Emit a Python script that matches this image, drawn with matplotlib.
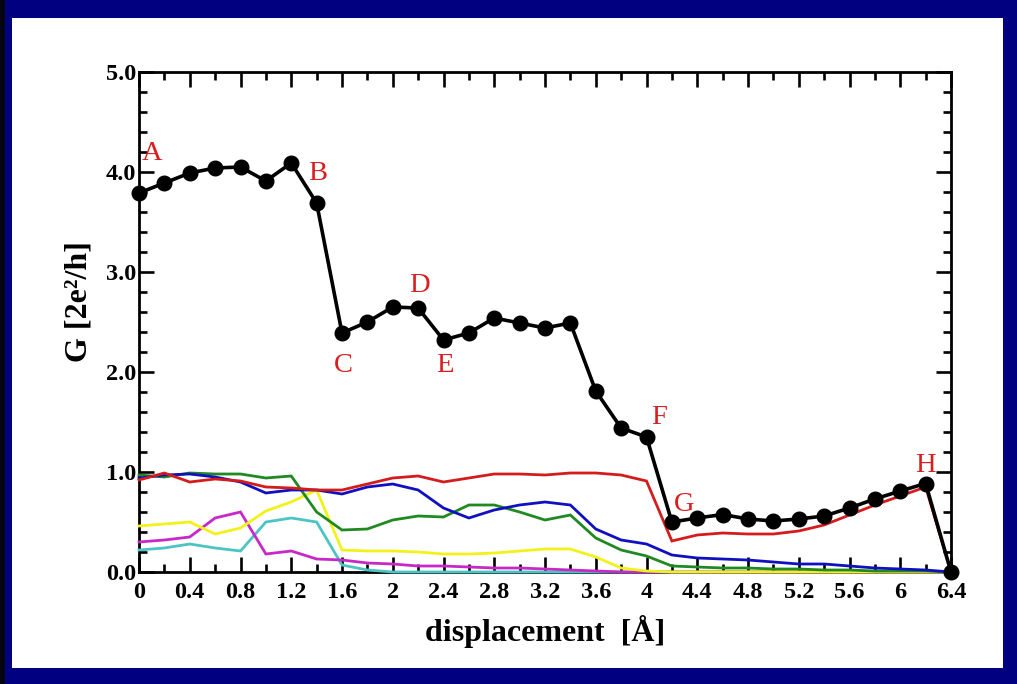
import numpy as np
import matplotlib
matplotlib.use("Agg")
import matplotlib.pyplot as plt
from matplotlib.patches import Rectangle
from matplotlib.ticker import MultipleLocator, FixedLocator

# displacement grid (Å)
displacement = [round(0.2 * i, 1) for i in range(33)]

# total conductance G [2e^2/h]
g_total = [3.79, 3.89, 3.99, 4.04, 4.05, 3.91, 4.09, 3.69, 2.39, 2.50, 2.65,
           2.64, 2.32, 2.39, 2.54, 2.49, 2.44, 2.49, 1.81, 1.44, 1.35, 0.50,
           0.54, 0.575, 0.53, 0.51, 0.53, 0.56, 0.64, 0.73, 0.81, 0.885, 0.0]

# eigenchannel transmissions
ch_red = [0.92, 0.99, 0.90, 0.93, 0.91, 0.85, 0.84, 0.82, 0.82, 0.88, 0.94,
          0.96, 0.90, 0.94, 0.98, 0.98, 0.97, 0.99, 0.99, 0.97, 0.91, 0.31,
          0.37, 0.39, 0.38, 0.38, 0.41, 0.47, 0.57, 0.67, 0.76, 0.85, 0.0]
ch_blue = [0.94, 0.97, 0.98, 0.95, 0.90, 0.79, 0.82, 0.82, 0.78, 0.85, 0.88,
           0.82, 0.64, 0.54, 0.62, 0.67, 0.70, 0.67, 0.43, 0.32, 0.28, 0.17,
           0.14, 0.13, 0.12, 0.10, 0.08, 0.08, 0.06, 0.04, 0.03, 0.02, 0.0]
ch_green = [0.97, 0.95, 0.99, 0.98, 0.98, 0.94, 0.96, 0.60, 0.42, 0.43, 0.52,
            0.56, 0.55, 0.67, 0.67, 0.60, 0.52, 0.57, 0.34, 0.22, 0.16, 0.06,
            0.05, 0.04, 0.04, 0.03, 0.03, 0.02, 0.02, 0.01, 0.01, 0.01, 0.0]
ch_yellow = [0.46, 0.48, 0.50, 0.38, 0.44, 0.61, 0.70, 0.82, 0.22, 0.21, 0.21,
             0.20, 0.18, 0.18, 0.19, 0.21, 0.23, 0.23, 0.15, 0.04, 0.01] + [0.0] * 12
ch_magenta = [0.30, 0.32, 0.35, 0.54, 0.60, 0.18, 0.21, 0.13, 0.12, 0.09, 0.08,
              0.06, 0.06, 0.05, 0.04, 0.04, 0.03, 0.02, 0.01, 0.0] + [0.0] * 13
ch_cyan = [0.22, 0.24, 0.28, 0.24, 0.21, 0.50, 0.54, 0.50, 0.07, 0.02] + [0.0] * 23

# configuration labels
point_labels = ["A", "B", "C", "D", "E", "F", "G", "H"]
label_x = [0.105, 1.41, 1.61, 2.21, 2.41, 4.10, 4.30, 6.20]
label_y = [4.18, 3.99, 2.07, 2.87, 2.07, 1.545, 0.675, 1.07]

x_ticks = [0, 0.4, 0.8, 1.2, 1.6, 2, 2.4, 2.8, 3.2, 3.6, 4, 4.4, 4.8, 5.2, 5.6, 6, 6.4]
x_ticklabels = ["0", "0.4", "0.8", "1.2", "1.6", "2", "2.4", "2.8", "3.2", "3.6",
                "4", "4.4", "4.8", "5.2", "5.6", "6", "6.4"]
y_ticks = [0.0, 1.0, 2.0, 3.0, 4.0, 5.0]
y_ticklabels = ["0.0", "1.0", "2.0", "3.0", "4.0", "5.0"]

W, H = 1017, 684
fig = plt.figure(figsize=(W / 100, H / 100), dpi=100, facecolor="#000080")

# white slide area inside the navy frame, dark strip on the far left
fig.patches.append(Rectangle((0, 0), 5 / W, 1, transform=fig.transFigure,
                             facecolor="#050510", edgecolor="none", zorder=-10))
fig.patches.append(Rectangle((12 / W, (H - 668) / H), (1003 - 12) / W, (668 - 18) / H,
                             transform=fig.transFigure, facecolor="white",
                             edgecolor="none", zorder=-10))

ax = fig.add_axes([139 / W, 1 - 572 / H, (951 - 139) / W, (572 - 72) / H])
ax.set_zorder(2)
ax.set_facecolor("white")

serif_bold = dict(family="Liberation Serif", weight="bold")

channel_specs = [
    (ch_cyan, "#4cc4c4"),
    (ch_magenta, "#c828c8"),
    (ch_yellow, "#f2f21a"),
    (ch_green, "#208a20"),
    (ch_blue, "#1010c0"),
    (ch_red, "#d41c1c"),
]
for vals, col in channel_specs:
    ax.plot(displacement, vals, color=col, lw=2.0, zorder=3, clip_on=False,
            solid_joinstyle="miter")

ax.plot(displacement, g_total, color="black", lw=2.6, marker="o", ms=10.5,
        zorder=5, clip_on=False)

for lab, lx, ly in zip(point_labels, label_x, label_y):
    ax.text(lx, ly, lab, color="#d81e1e", family="Liberation Serif",
            fontsize=20.5, ha="center", va="center", zorder=6)

ax.set_xlim(0, 6.4)
ax.set_ylim(0, 5.0)
ax.xaxis.set_major_locator(FixedLocator(x_ticks))
ax.set_xticklabels(x_ticklabels)
ax.xaxis.set_minor_locator(MultipleLocator(0.2))
ax.yaxis.set_major_locator(FixedLocator(y_ticks))
ax.set_yticklabels(y_ticklabels)
ax.yaxis.set_minor_locator(MultipleLocator(0.2))

ax.tick_params(which="both", direction="in", top=True, right=True, width=1.9,
               colors="black")
ax.tick_params(which="major", length=11)
ax.tick_params(axis="x", which="major", pad=7)
ax.tick_params(axis="y", which="major", pad=2)
ax.tick_params(which="minor", length=6)
for lbl in ax.get_xticklabels() + ax.get_yticklabels():
    lbl.set_fontfamily("Liberation Serif")
    lbl.set_fontweight("bold")
    lbl.set_fontsize(17.5)
for sp in ax.spines.values():
    sp.set_linewidth(2.0)

ax.set_xlabel("displacement  [Å]", fontsize=23, **serif_bold)
ax.set_ylabel("G [2e²/h]", fontsize=23, **serif_bold)
ax.xaxis.set_label_coords(0.5, -0.118)
ax.yaxis.set_label_coords(-0.074, 0.54)
ax.xaxis.label.set_va("center")
ax.yaxis.label.set_va("center")

fig.savefig("out.png", dpi=100, facecolor=fig.get_facecolor())
